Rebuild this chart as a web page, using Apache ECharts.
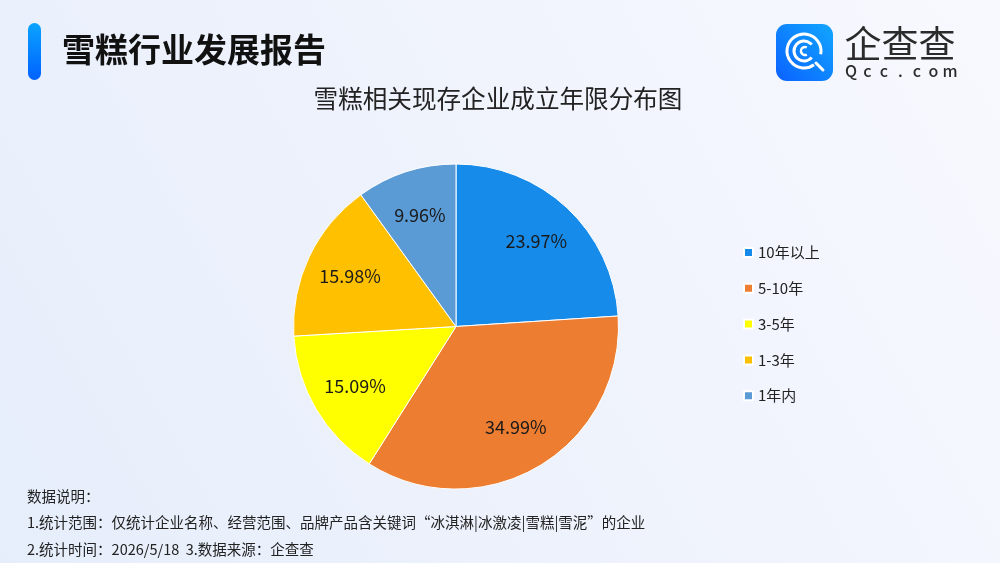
<!DOCTYPE html>
<html>
<head>
<meta charset="utf-8">
<style>
html,body{margin:0;padding:0;width:1000px;height:563px;overflow:hidden;}
#chart{width:1000px;height:563px;}
</style>
<script src="https://cdn.jsdelivr.net/npm/echarts@6/dist/echarts.min.js"></script>
</head>
<body>
<div id="chart"></div>
<script>
// ---- data ----
const categories = ['10年以上', '5-10年', '3-5年', '1-3年', '1年内'];
const values = [23.97, 34.99, 15.09, 15.98, 9.96];
const colors = ['#178BEA', '#ED7D31', '#FFFF00', '#FFC000', '#5B9BD5'];
const headerText = '雪糕行业发展报告';
const chartTitle = '雪糕相关现存企业成立年限分布图';
const notes = [
  '数据说明：',
  '1.统计范围：仅统计企业名称、经营范围、品牌产品含关键词“冰淇淋|冰激凌|雪糕|雪泥”的企业',
  '2.统计时间：2026/5/18  3.数据来源：企查查'
];
const logoCn = '企查查';
const logoEn = ['Q', 'c', 'c', '.', 'c', 'o', 'm'];

const FONT = '"Noto Sans CJK SC", "Noto Sans", sans-serif';
const chart = echarts.init(document.getElementById('chart'));

const pieData = categories.map((n, i) => ({ name: n, value: values[i], itemStyle: { color: colors[i] } }));
const labelData = categories.map((n, i) => ({ name: n, value: values[i] }));

const graphics = [
  // header bar
  { type: 'rect', shape: { x: 28, y: 23, width: 13, height: 57, r: 6.5 },
    style: { fill: new echarts.graphic.LinearGradient(0, 0, 0, 1, [{ offset: 0, color: '#0BA3FF' }, { offset: 1, color: '#0062FF' }]) } },
  { type: 'text', x: 62, y: 49, style: { text: headerText, font: 'bold 33px ' + FONT, fill: '#111', textVerticalAlign: 'middle' } },
  // chart title
  { type: 'text', x: 498, y: 99, style: { text: chartTitle, font: '24.6px ' + FONT, fill: '#222', textAlign: 'center', textVerticalAlign: 'middle' } },
  // logo box
  { type: 'rect', shape: { x: 776, y: 24, width: 57, height: 57, r: 11 },
    style: { fill: new echarts.graphic.LinearGradient(0, 1, 1, 0, [{ offset: 0, color: '#0A62FF' }, { offset: 1, color: '#12A6FF' }]) } },
  { type: 'arc', shape: { cx: 804, cy: 51, r: 17, startAngle: Math.PI * 0.30, endAngle: Math.PI * 2.06, clockwise: true },
    style: { stroke: '#fff', lineWidth: 3, fill: null } },
  { type: 'line', shape: { x1: 816, y1: 63, x2: 823, y2: 70 }, style: { stroke: '#fff', lineWidth: 3, lineCap: 'round' } },
  { type: 'arc', shape: { cx: 804, cy: 51, r: 10, startAngle: Math.PI * 0.22, endAngle: Math.PI * 1.78, clockwise: true },
    style: { stroke: '#fff', lineWidth: 3, fill: null } },
  { type: 'arc', shape: { cx: 805, cy: 51, r: 4, startAngle: Math.PI * 0.35, endAngle: Math.PI * 1.65, clockwise: true },
    style: { stroke: '#fff', lineWidth: 2.5, fill: null } },
  { type: 'text', x: 900, y: 44, style: { text: logoCn, font: '37px ' + FONT, fill: '#2b2b2b', textAlign: 'center', textVerticalAlign: 'middle' } }
];
logoEn.forEach((ch, i) => {
  graphics.push({ type: 'text', x: 851 + i * 16.5, y: 71, style: { text: ch, font: '500 16px ' + FONT, fill: '#2b2b2b', textAlign: 'center', textVerticalAlign: 'middle' } });
});
const noteY = [496, 522, 549];
notes.forEach((t, i) => {
  graphics.push({ type: 'text', x: 27, y: noteY[i], style: { text: t, font: '14.5px ' + FONT, fill: '#222', textVerticalAlign: 'middle' } });
});

chart.setOption({
  animation: false,
  backgroundColor: new echarts.graphic.LinearGradient(0, 1, 1, 0, [
    { offset: 0, color: '#E6EEFB' }, { offset: 0.45, color: '#EEF2FC' }, { offset: 1, color: '#F7F9FE' }
  ]),
  graphic: graphics,
  legend: {
    orient: 'vertical', left: 743, top: 245, padding: 0, itemGap: 20.8,
    itemWidth: 9, itemHeight: 9, icon: 'rect',
    textStyle: { fontSize: 15, color: '#222', fontFamily: FONT },
    data: categories
  },
  series: [
    {
      type: 'pie', center: [456, 326.5], radius: [0, 162.5], startAngle: 90, clockwise: true,
      label: { show: false }, labelLine: { show: false },
      itemStyle: { borderColor: '#fff', borderWidth: 1 },
      emphasis: { disabled: true },
      data: pieData
    },
    {
      type: 'pie', center: [456, 326.5], radius: [66, 162.5], startAngle: 90, clockwise: true, silent: true,
      itemStyle: { color: 'rgba(0,0,0,0)' },
      label: { show: true, position: 'inside', formatter: '{c}%', fontSize: 18, color: '#1a1a1a', fontFamily: FONT },
      labelLine: { show: false },
      emphasis: { disabled: true },
      data: labelData
    }
  ]
});
</script>
</body>
</html>
